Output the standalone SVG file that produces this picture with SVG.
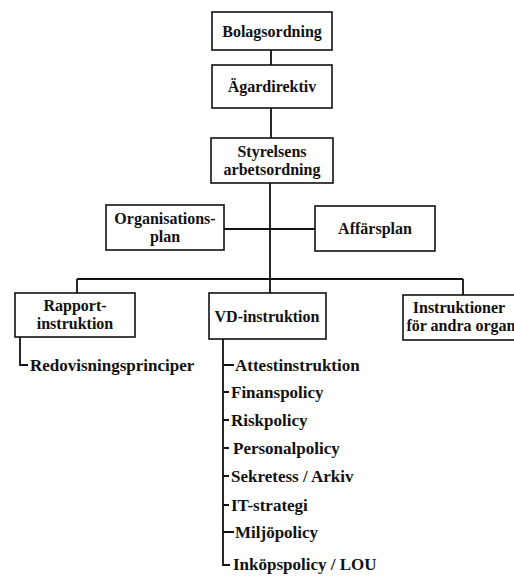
<svg xmlns="http://www.w3.org/2000/svg" width="514" height="579" viewBox="0 0 514 579">
<style>
.box{fill:#fff;stroke:#111;stroke-width:1.6}
.t{font-family:"Liberation Serif","Times New Roman",serif;font-weight:bold;font-size:16px;fill:#111;text-anchor:middle}
.l{font-family:"Liberation Serif","Times New Roman",serif;font-weight:bold;font-size:17px;fill:#111}
.c{fill:none;stroke:#111;stroke-width:1.8}
</style>
<rect width="514" height="579" fill="#fff"/>
<g id="connectors">
<path class="c" d="M271 50V65M271 108V138M270 183V293M224 229H315M77 279H463M77 279V293M463 279V295"/>
<path class="c" d="M20 337V365H28"/>
<path class="c" d="M223 339V565H230M223 365H234M223 392H229M223 420H229M223 448H229M223 476H229M223 505H229M223 532H234"/>
</g>
<g id="bolagsordning"><rect class="box" x="212" y="12" width="120" height="38"/><text class="t" x="272" y="37">Bolagsordning</text></g>
<g id="agardirektiv"><rect class="box" x="212" y="65" width="120" height="43"/><text class="t" x="272" y="92">Ägardirektiv</text></g>
<g id="styrelsens"><rect class="box" x="211" y="138" width="122" height="45"/><text class="t" x="272" y="157">Styrelsens</text><text class="t" x="272" y="175">arbetsordning</text></g>
<g id="organisationsplan"><rect class="box" x="106" y="205" width="118" height="45"/><text class="t" x="165" y="224">Organisations-</text><text class="t" x="165" y="242">plan</text></g>
<g id="affarsplan"><rect class="box" x="315" y="206" width="120" height="45"/><text class="t" x="375" y="234">Affärsplan</text></g>
<g id="rapport"><rect class="box" x="15" y="293" width="120" height="44"/><text class="t" x="75" y="311">Rapport-</text><text class="t" x="75" y="329">instruktion</text></g>
<g id="vd"><rect class="box" x="209" y="293" width="117" height="46"/><text class="t" x="267" y="322">VD-instruktion</text></g>
<g id="instruktioner"><rect class="box" x="403" y="295" width="116" height="45"/><text class="t" x="459" y="313">Instruktioner</text><text class="t" x="461" y="331">för andra organ</text></g>
<g id="redovisning"><text class="l" x="30" y="371">Redovisningsprinciper</text></g>
<g id="vd-list">
<text class="l" x="235" y="371">Attestinstruktion</text>
<text class="l" x="231" y="398">Finanspolicy</text>
<text class="l" x="231" y="426">Riskpolicy</text>
<text class="l" x="233" y="454">Personalpolicy</text>
<text class="l" x="231" y="482">Sekretess / Arkiv</text>
<text class="l" x="231" y="511">IT-strategi</text>
<text class="l" x="235" y="538">Miljöpolicy</text>
<text class="l" x="233" y="570">Inköpspolicy / LOU</text>
</g>
</svg>
